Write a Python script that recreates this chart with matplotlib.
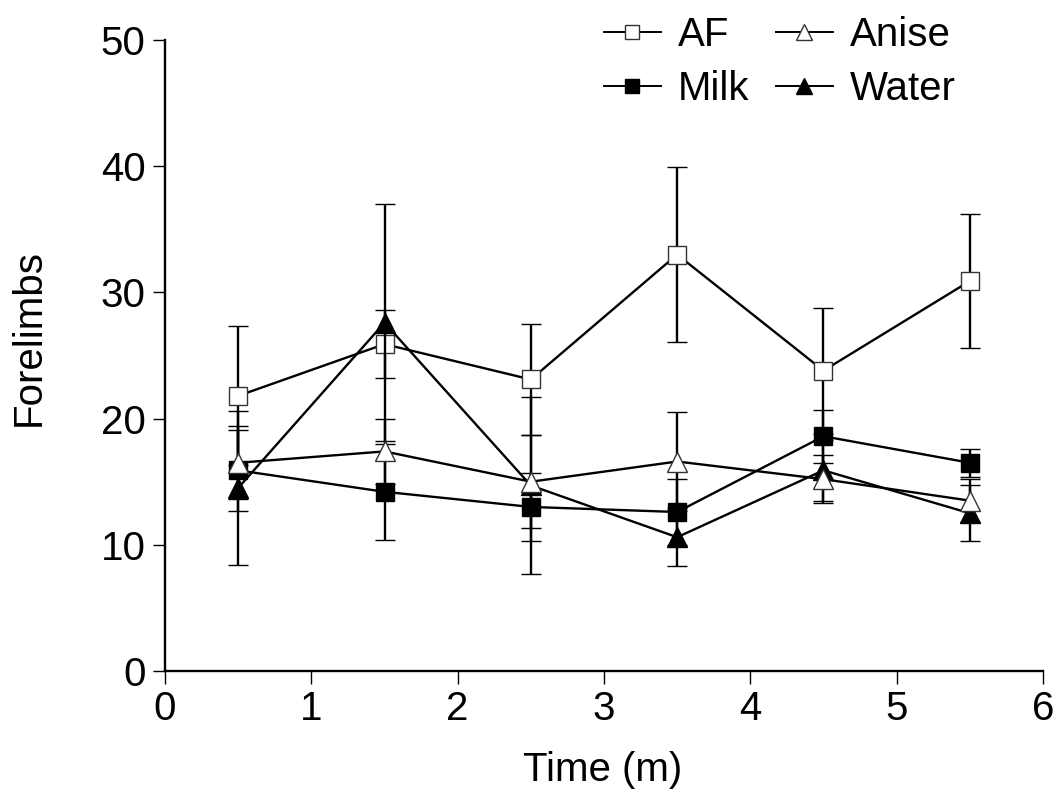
import matplotlib
matplotlib.use('Agg')

import matplotlib.pyplot as plt
import numpy as np

# time points (minutes)
time_m = [0.5, 1.5, 2.5, 3.5, 4.5, 5.5]

# group means and error bars
af_mean = [21.8, 25.9, 23.1, 33.0, 23.8, 30.9]
af_err = [5.5, 2.7, 4.4, 6.9, 5.0, 5.3]

anise_mean = [16.5, 17.4, 15.0, 16.6, 15.2, 13.5]
anise_err = [2.9, 2.6, 3.7, 3.9, 1.9, 1.7]

milk_mean = [15.9, 14.2, 13.0, 12.6, 18.6, 16.5]
milk_err = [3.2, 3.8, 2.7, 2.6, 2.1, 1.1]

water_mean = [14.5, 27.6, 14.7, 10.6, 15.9, 12.5]
water_err = [6.1, 9.4, 7.0, 2.3, 2.4, 2.2]

x_ticks = [0, 1, 2, 3, 4, 5, 6]
y_ticks = [0, 10, 20, 30, 40, 50]

plt.rcParams['font.family'] = ['Liberation Sans', 'DejaVu Sans']
FS = 29

fig = plt.figure(figsize=(10.62, 7.98), dpi=100)
ax = fig.add_axes([165 / 1062, 1 - 671 / 798, 878 / 1062, 631 / 798])

series = [
    ('AF', af_mean, af_err, 's', 'white', 12.5, 3),
    ('Milk', milk_mean, milk_err, 's', 'black', 12.5, 4),
    ('Anise', anise_mean, anise_err, '^', 'white', 14, 5),
    ('Water', water_mean, water_err, '^', 'black', 14, 4.5),
]

handles = {}
for name, mean, err, marker, face, ms, z in series:
    line, caps, bars = ax.errorbar(
        time_m, mean, yerr=err,
        color='black', lw=1.7, elinewidth=1.7, capsize=7, capthick=1.7,
        marker=marker, markersize=ms, markerfacecolor=face,
        markeredgecolor='black' if face == 'black' else '#333333',
        markeredgewidth=1.0, zorder=z,
    )
    handles[name] = line

ax.set_xlim(0, 6)
ax.set_ylim(0, 50)
ax.set_xticks(x_ticks)
ax.set_yticks(y_ticks)

for s in ['top', 'right']:
    ax.spines[s].set_visible(False)
for s in ['left', 'bottom']:
    ax.spines[s].set_linewidth(1.7)

ax.tick_params(axis='both', direction='out', length=9, width=1.0,
               labelsize=FS, pad=5, colors='black')

ax.set_xlabel('Time (m)', fontsize=FS)
ax.set_ylabel('Forelimbs', fontsize=FS)
ax.xaxis.set_label_coords(0.498, -0.126)
ax.yaxis.set_label_coords(-0.134, 0.528)

order = ['AF', 'Milk', 'Anise', 'Water']
leg = ax.legend([handles[k] for k in order], order, ncol=2, frameon=False,
                fontsize=FS, loc='upper left',
                bbox_to_anchor=(604 / 1062, 1 - 16 / 798),
                bbox_transform=fig.transFigure,
                borderpad=0, borderaxespad=0, handlelength=1.41,
                handletextpad=0.42, columnspacing=0.66, labelspacing=0.40,
                markerscale=0.8)
for h in leg.legend_handles:
    h.set_linewidth(1.4)

fig.savefig('out.png', dpi=100)
